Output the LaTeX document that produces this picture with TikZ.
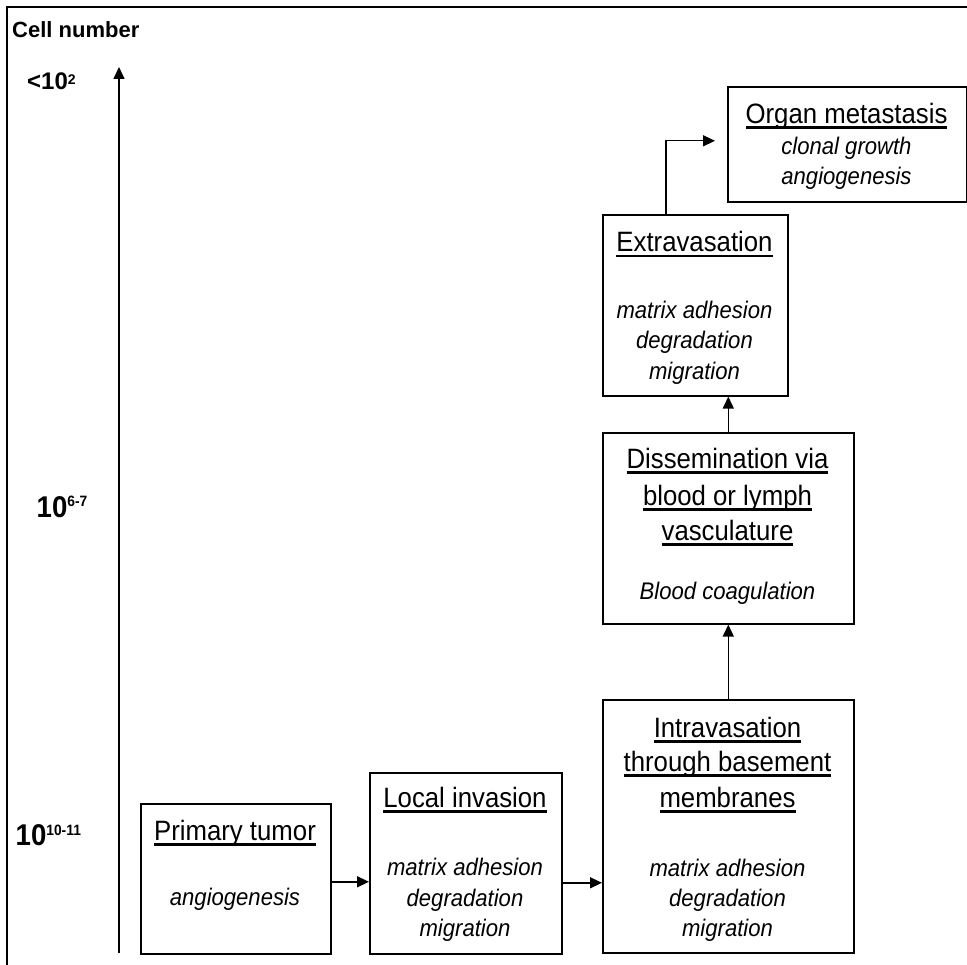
\documentclass[tikz,border=0pt]{standalone}
\usepackage{fontspec}
\setmainfont{Liberation Sans}[FakeStretch=0.92]
\newfontfamily\plainfont{Liberation Sans}
\usetikzlibrary{arrows.meta}
\newcommand{\ulx}[1]{\setbox0\hbox{#1}\rlap{\vrule height -3pt depth 5.5pt width \wd0}\box0}
\begin{document}
\begin{tikzpicture}[x=1pt,y=-1pt,
  box/.style={draw, line width=1.6pt, rectangle, inner sep=0pt, anchor=north west},
  ttl/.style={anchor=base, inner sep=0pt, font=\fontsize{28}{28}\selectfont},
  itl/.style={anchor=base, inner sep=0pt, font=\fontsize{24}{24}\selectfont\itshape},
  lbl/.style={anchor=base west, inner sep=0pt},
  arr/.style={line width=1.4pt, -{Triangle[length=12pt,width=11pt]}},
  frame/.style={line width=1.6pt}]
\useasboundingbox (0,0) rectangle (967,965);
\clip (0,0) rectangle (967,965);
\draw[frame] (7,980) -- (7,7) -- (990,7);

% axis
\coordinate (axb) at (119,953);
\coordinate (axt) at (119,67);
\draw[arr] (axb) -- (axt);

% axis labels
\node[lbl, font=\plainfont\bfseries\fontsize{22}{22}\selectfont] (cell) at (12,38) {Cell number};
\node[lbl, font=\plainfont\bfseries\fontsize{24}{24}\selectfont] (lab2) at (27,90) {<10\raisebox{5pt}{\fontsize{14}{14}\selectfont 2}};
\node[lbl, font=\bfseries\fontsize{30}{30}\selectfont] (lab67) at (36.5,517) {10\raisebox{10pt}{\fontsize{15}{15}\selectfont 6-7}};
\node[lbl, font=\bfseries\fontsize{30}{30}\selectfont] (lab1011) at (15.5,845) {10\raisebox{10pt}{\fontsize{15}{15}\selectfont 10-11}};

% boxes
\node[box, minimum width=190pt, minimum height=150pt] (prim) at (140,803) {};
\node[box, minimum width=192pt, minimum height=181pt] (loc) at (369,772) {};
\node[box, minimum width=251pt, minimum height=253pt] (intra) at (602,699) {};
\node[box, minimum width=251pt, minimum height=191pt] (diss) at (602,432) {};
\node[box, minimum width=185pt, minimum height=181pt] (extra) at (602,214) {};
\node[box, minimum width=239pt, minimum height=115pt] (organ) at (727,86) {};

% texts
\node[ttl] (primT) at (235,840) {\ulx{Primary tumor}};
\node[itl] (primI) at (235,905) {angiogenesis};

\node[ttl] (locT) at (465,807) {\ulx{Local invasion}};
\node[itl] (locI1) at (465,875) {matrix adhesion};
\node[itl] (locI2) at (465,906) {degradation};
\node[itl] (locI3) at (465,936) {migration};

\node[ttl] (intraT1) at (727.5,737) {\ulx{Intravasation}};
\node[ttl] (intraT2) at (727.5,771) {\ulx{through basement}};
\node[ttl] (intraT3) at (727.5,807) {\ulx{membranes}};
\node[itl] (intraI1) at (727.5,876) {matrix adhesion};
\node[itl] (intraI2) at (727.5,906) {degradation};
\node[itl] (intraI3) at (727.5,936) {migration};

\node[ttl] (dissT1) at (727.5,468) {\ulx{Dissemination via}};
\node[ttl] (dissT2) at (727.5,505) {\ulx{blood or lymph}};
\node[ttl] (dissT3) at (727.5,540) {\ulx{vasculature}};
\node[itl] (dissI1) at (727.5,599) {Blood coagulation};

\node[ttl] (extraT) at (694.5,252) {\ulx{Extravasation}};
\node[itl] (extraI1) at (694.5,319) {matrix adhesion};
\node[itl] (extraI2) at (694.5,349) {degradation};
\node[itl] (extraI3) at (694.5,380) {migration};

\node[ttl] (organT) at (846.5,123.5) {\ulx{Organ metastasis}};
\node[itl] (organI1) at (846.5,155) {clonal growth};
\node[itl] (organI2) at (846.5,185) {angiogenesis};

% connectors
\coordinate (a1) at ([yshift=-3pt]prim.east);
\draw[arr] (a1) -- (a1 -| loc.west);
\coordinate (a2) at ([yshift=-19.5pt]loc.east);
\draw[arr] (a2) -- (a2 -| intra.west);
\draw[arr] (intra.north) -- (diss.south);
\draw[arr] (diss.north) -- (diss.north |- extra.south);
\coordinate (a3) at ([xshift=-29.5pt]extra.north);
\coordinate (a4) at ([xshift=-12pt,yshift=3.5pt]organ.west);
\draw[arr] (a3) |- (a4);
\end{tikzpicture}
\end{document}
